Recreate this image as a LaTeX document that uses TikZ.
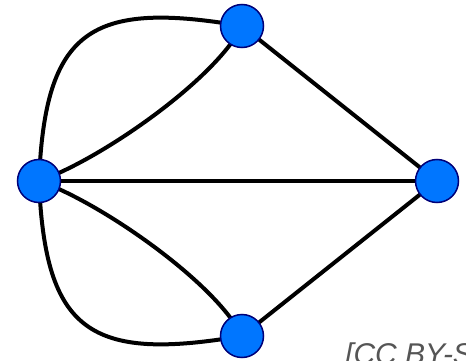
\documentclass[tikz,border=0pt]{standalone}
\usepackage{fontspec}
\setmainfont{Liberation Sans}
\usetikzlibrary{backgrounds}
\definecolor{vertexblue}{RGB}{0,118,255}
\definecolor{vertexrim}{RGB}{0,0,120}
\definecolor{creditgray}{RGB}{85,85,85}
\tikzset{
  vertex/.style={circle, fill=vertexblue, draw=vertexrim, line width=1.5pt,
                 minimum size=43pt, inner sep=0pt, outer sep=0pt},
  edge/.style={line width=4pt, black},
  credit/.style={anchor=base west, inner sep=0pt, text=creditgray,
                 font=\fontsize{30}{36}\selectfont\itshape}
}
\begin{document}
\begin{tikzpicture}[x=1pt, y=-1pt]
  \useasboundingbox (0,0) rectangle (466,361);
  \clip (0,0) rectangle (466,361);

  % vertices
  \node[vertex] (l) at (39,181) {};
  \node[vertex] (t) at (242,26) {};
  \node[vertex] (r) at (437,181) {};
  \node[vertex] (b) at (242,336) {};

  % edges, kept underneath the vertices
  \begin{pgfonlayer}{background}
    \draw[edge] (l.center) -- (r.center);
    \draw[edge] (t.center) -- (r.center);
    \draw[edge] (b.center) -- (r.center);
    % doubled edges between the left vertex and the top / bottom ones
    \draw[edge] (l.center) .. controls +(6,-151) and +(-152,-26) .. (t.center);
    \draw[edge] (l.center) .. controls +(61,-21) and +(-27,54) .. (t.center);
    \draw[edge] (l.center) .. controls +(6,151) and +(-152,26) .. (b.center);
    \draw[edge] (l.center) .. controls +(61,21) and +(-27,-54) .. (b.center);
  \end{pgfonlayer}

  \node[credit] (cc) at (345,364.5) {[CC BY-SA]};
\end{tikzpicture}
\end{document}
